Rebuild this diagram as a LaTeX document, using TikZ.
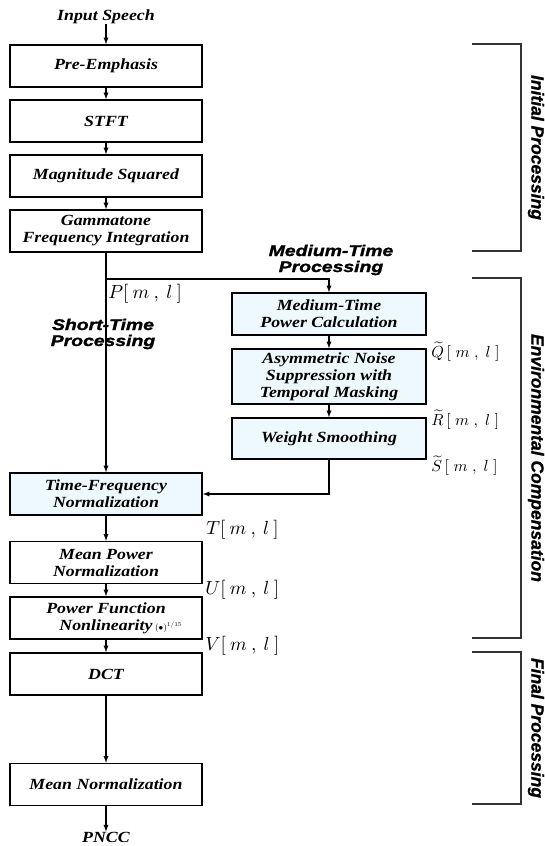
\documentclass[tikz,border=0pt]{standalone}
\usepackage{fontspec}
\setmainfont{Liberation Serif}
\newfontfamily\boxfont[FakeStretch=1.15]{Liberation Serif}
\newfontfamily\headfont[FakeStretch=1.25,FakeBold=1.5]{Liberation Sans}
\newfontfamily\sidefont[FakeBold=1]{Liberation Sans}
\usetikzlibrary{arrows,positioning}
\definecolor{paleblue}{RGB}{238,249,253}
\tikzset{every picture/.style={/utils/exec={\boxfont\bfseries\itshape}}}

\begin{document}
\begin{tikzpicture}[x=1pt, y=-1pt, node distance=55pt]
  \tikzstyle{block} = [rectangle, draw=black, line width=1.5pt, minimum width=192pt, minimum height=42pt, inner sep=0pt, align=center, font=\fontsize{15.5}{17}\selectfont]
  \tikzstyle{shaded} = [block, fill=paleblue]
  \tikzstyle{term} = [inner sep=0pt, font=\fontsize{15.5}{17}\selectfont]
  \tikzstyle{arrow} = [-latex, line width=1.3pt]
  \tikzstyle{sig} = [anchor=west, inner sep=0pt, font=\normalfont, scale=1.9]
  \tikzstyle{wsig} = [anchor=west, inner sep=0pt, font=\normalfont, scale=1.6]
  \tikzstyle{phase} = [align=center, inner sep=0pt, font=\headfont\bfseries\itshape\fontsize{15.5}{16}\selectfont]
  \tikzstyle{brace} = [line width=1.4pt, draw=black!80]
  \tikzstyle{stage} = [rotate=-90, inner sep=0pt, font=\sidefont\bfseries\itshape\fontsize{17.5}{18}\selectfont]

  \useasboundingbox (0,0) rectangle (545,846);

  \node (input) [term] at (106,17) {Input Speech};
  \node (pre) [block] at (106,66) {Pre-Emphasis};
  \node (stft) [block, below of=pre] {STFT};
  \node (mag) [block, below of=stft] {Magnitude Squared};
  \node (gamma) [block, below of=mag] {Gammatone\\Frequency Integration};

  % medium-time branch
  \node (mtp) [shaded, minimum width=194pt] at (329,314) {Medium-Time\\Power Calculation};
  \node (ans) [shaded, minimum width=194pt, minimum height=55pt, below of=mtp, node distance=62.5pt] {Asymmetric Noise\\Suppression with\\Temporal Masking};
  \node (ws) [shaded, minimum width=194pt, minimum height=41pt, below of=ans, node distance=62pt] {Weight Smoothing};

  \node (tf) [shaded] at (106,494) {Time-Frequency\\Normalization};
  \node (mpn) [block, below of=tf, node distance=68.5pt] {Mean Power\\Normalization};
  \node (pfn) [block, below of=mpn, node distance=55.5pt] {Power Function\\Nonlinearity\rlap{\,{\normalfont\fontsize{9}{9}\selectfont$(\bullet)^{1/15}$}}};
  \node (dct) [block, below of=pfn, node distance=56pt] {DCT};
  \node (mn) [block, below of=dct, node distance=110.5pt] {Mean Normalization};
  \node (output) [term, below of=mn, node distance=52.5pt] {PNCC};

  \coordinate (split) at (106,279);

  \draw [arrow] (input) -- (pre);
  \draw [arrow] (pre) -- (stft);
  \draw [arrow] (stft) -- (mag);
  \draw [arrow] (mag) -- (gamma);
  \draw [arrow] (gamma) -- (tf);
  % horizontal then vertical
  \draw [arrow] (split) -| (mtp);
  \draw [arrow] (mtp) -- (ans);
  \draw [arrow] (ans) -- (ws);
  \draw [arrow] (ws) |- (tf);
  \draw [arrow] (tf) -- (mpn);
  \draw [arrow] (mpn) -- (pfn);
  \draw [arrow] (pfn) -- (dct);
  \draw [arrow] (dct) -- (mn);
  \draw [arrow] (mn) -- (output);

  \node (p) [sig] at (108,294) {$P[\:m\:,\:l\:]$};
  \node (t) [sig] at (206,530) {$T[\:m\:,\:l\:]$};
  \node (u) [sig] at (205,590) {$U[\:m\:,\:l\:]$};
  \node (v) [sig] at (205,646) {$V[\:m\:,\:l\:]$};
  \node (q) [wsig] at (431,352) {$\widetilde{Q}\,[\;m\;,\;l\;]$};
  \node (r) [wsig] at (431,420) {$\widetilde{R}\,[\;m\;,\;l\;]$};
  \node (s) [wsig] at (431,466) {$\widetilde{S}\,[\;m\;,\;l\;]$};

  \node (short) [phase] at (103,334) {Short-Time\\Processing};
  \node (medium) [phase] at (331,260) {Medium-Time\\Processing};

  % stage brackets
  \draw [brace] (472,44) -| (521,251) -- (472,251);
  \draw [brace] (472,278) -| (521,638) -- (472,638);
  \draw [brace] (472,652) -| (521,804) -- (472,804);
  \node (initial) [stage] at (536,147.5) {Initial Processing};
  \node (env) [stage] at (536,458) {Environmental Compensation};
  \node (final) [stage] at (536,728) {Final Processing};
\end{tikzpicture}
\end{document}
